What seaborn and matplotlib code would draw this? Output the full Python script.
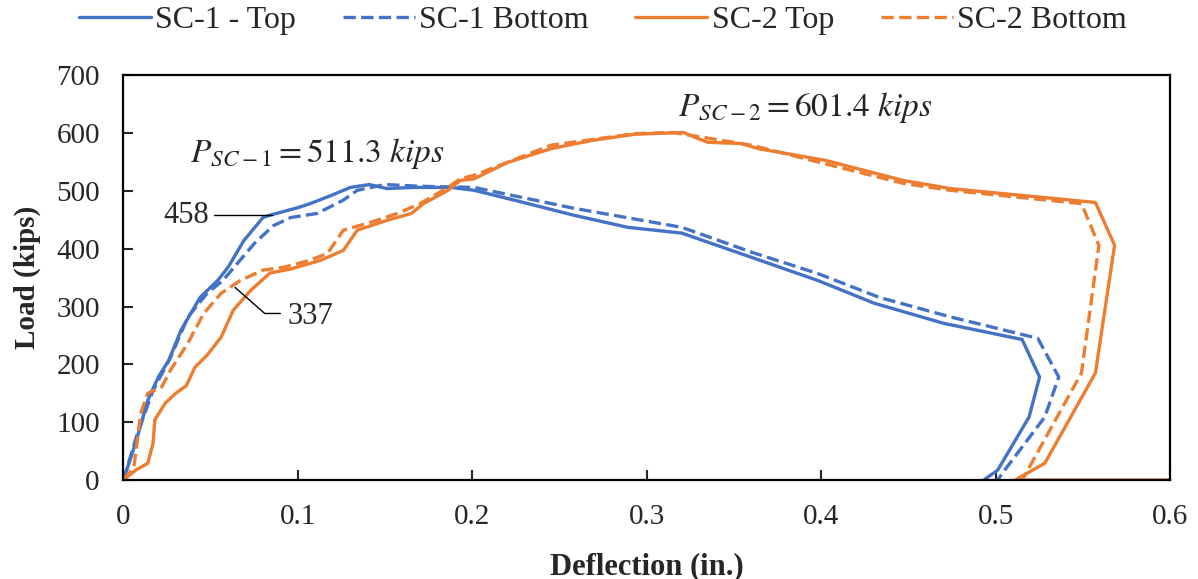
import matplotlib
matplotlib.use("Agg")
import matplotlib.pyplot as plt
import pandas as pd
import seaborn as sns

# deflection (in.) / load (kips)
sc1_top_x = [0, 0.007, 0.014, 0.020, 0.026, 0.033, 0.044, 0.054, 0.060, 0.069, 0.080, 0.084,
             0.100, 0.107, 0.119, 0.130, 0.141, 0.151, 0.166, 0.188, 0.201, 0.224, 0.258,
             0.289, 0.320, 0.360, 0.398, 0.430, 0.470, 0.515, 0.525, 0.519, 0.501, 0.493]
sc1_top_y = [0, 64, 138, 178, 207, 259, 316, 345, 368, 414, 454, 458,
             471, 478, 492, 506, 511, 504, 506, 506, 501, 484, 458,
             437, 427, 385, 345, 306, 271, 243, 178, 109, 17, 0]

sc1_bot_x = [0, 0.008, 0.017, 0.027, 0.037, 0.048, 0.057, 0.075, 0.086, 0.096, 0.111,
             0.126, 0.134, 0.150, 0.170, 0.201, 0.258, 0.320, 0.360, 0.398, 0.433,
             0.474, 0.524, 0.536, 0.528, 0.505, 0.501]
sc1_bot_y = [0, 80, 155, 212, 282, 323, 345, 409, 440, 454, 461,
             484, 501, 511, 508, 506, 470, 437, 394, 357, 316,
             282, 245, 178, 109, 17, 0]

sc2_top_x = [0, 0.007, 0.014, 0.017, 0.018, 0.024, 0.030, 0.036, 0.041, 0.048, 0.056,
             0.063, 0.073, 0.084, 0.096, 0.113, 0.126, 0.134, 0.151, 0.165, 0.172,
             0.186, 0.193, 0.201, 0.220, 0.245, 0.268, 0.293, 0.321, 0.328, 0.335,
             0.354, 0.364, 0.402, 0.447, 0.474, 0.557, 0.568, 0.557, 0.528, 0.511, 0.6]
sc2_top_y = [0, 17, 29, 64, 104, 133, 150, 163, 195, 216, 247,
             294, 328, 358, 365, 380, 397, 432, 449, 461, 478,
             501, 518, 521, 549, 573, 587, 598, 601, 592, 584,
             582, 573, 553, 518, 504, 480, 406, 185, 29, 0, 0]

sc2_bot_x = [0, 0.006, 0.008, 0.010, 0.014, 0.022, 0.027, 0.037, 0.046, 0.056, 0.067,
             0.080, 0.092, 0.107, 0.117, 0.126, 0.140, 0.157, 0.170, 0.186, 0.193,
             0.201, 0.245, 0.293, 0.315, 0.360, 0.402, 0.447, 0.474, 0.549, 0.559,
             0.549, 0.516, 0.513]
sc2_bot_y = [0, 22, 69, 116, 150, 161, 190, 237, 288, 323, 345,
             363, 368, 380, 392, 432, 444, 461, 478, 506, 521,
             527, 579, 599, 601, 579, 547, 513, 501, 478, 406,
             185, 5, 0]

series = ["SC-1 - Top", "SC-1 Bottom", "SC-2 Top", "SC-2 Bottom"]
blue, orange = "#4472C4", "#ED7D31"
styles = {
    "SC-1 - Top": (blue, "-"),
    "SC-1 Bottom": (blue, "--"),
    "SC-2 Top": (orange, "-"),
    "SC-2 Bottom": (orange, "--"),
}

frames = []
for name, xs, ys in zip(series, [sc1_top_x, sc1_bot_x, sc2_top_x, sc2_bot_x],
                        [sc1_top_y, sc1_bot_y, sc2_top_y, sc2_bot_y]):
    frames.append(pd.DataFrame({"Deflection": xs, "Load": ys, "Series": name}))
df = pd.concat(frames, ignore_index=True)

sns.set_style("white")
plt.rcParams["font.family"] = ["Liberation Serif", "DejaVu Serif"]
plt.rcParams["mathtext.fontset"] = "stix"

fig = plt.figure(figsize=(11.98, 5.79), dpi=100)
ax = fig.add_axes([0.103, 0.171, 0.874, 0.699])

for name in series:
    color, ls = styles[name]
    sns.lineplot(data=df[df["Series"] == name], x="Deflection", y="Load", sort=False,
                 estimator=None, color=color, linestyle=ls, linewidth=2.4, label=name, ax=ax)

ax.set_xlim(0, 0.6)
ax.set_ylim(0, 700)
ax.set_xticks([0, 0.1, 0.2, 0.3, 0.4, 0.5, 0.6])
ax.set_xticklabels(["0", "0.1", "0.2", "0.3", "0.4", "0.5", "0.6"])
ax.set_yticks(range(0, 701, 100))
ax.tick_params(direction="in", length=7, width=1.5, labelsize=21,
               top=False, right=False, bottom=True, left=True)
ax.tick_params(axis="x", pad=17)
ax.tick_params(axis="y", pad=17)
for sp in ax.spines.values():
    sp.set_color("black")
    sp.set_linewidth(1.6)

ax.set_xlabel("Deflection (in.)", fontsize=22, fontweight="bold", labelpad=16)
ax.set_ylabel("Load (kips)", fontsize=21, fontweight="bold", labelpad=11)

# annotations
ax.plot([0.052, 0.085], [458, 458], color="black", lw=1)
ax.text(0.049, 458, "458", fontsize=22, ha="right", va="center")
ax.plot([0.064, 0.081, 0.090], [333, 288, 288], color="black", lw=1)
ax.text(0.094, 282, "337", fontsize=22, ha="left", va="center")
ax.text(0.038, 565, r"$P_{SC-1} = 511.3\ kips$", fontsize=24, ha="left", va="center")
ax.text(0.318, 645, r"$P_{SC-2} = 601.4\ kips$", fontsize=24, ha="left", va="center")

ax.legend(loc="center", bbox_to_anchor=(0.458, 1.136), ncol=4, frameon=False,
          fontsize=23, handlelength=2.25, columnspacing=1.45, handletextpad=0.15)

fig.savefig("out.png", dpi=100)
